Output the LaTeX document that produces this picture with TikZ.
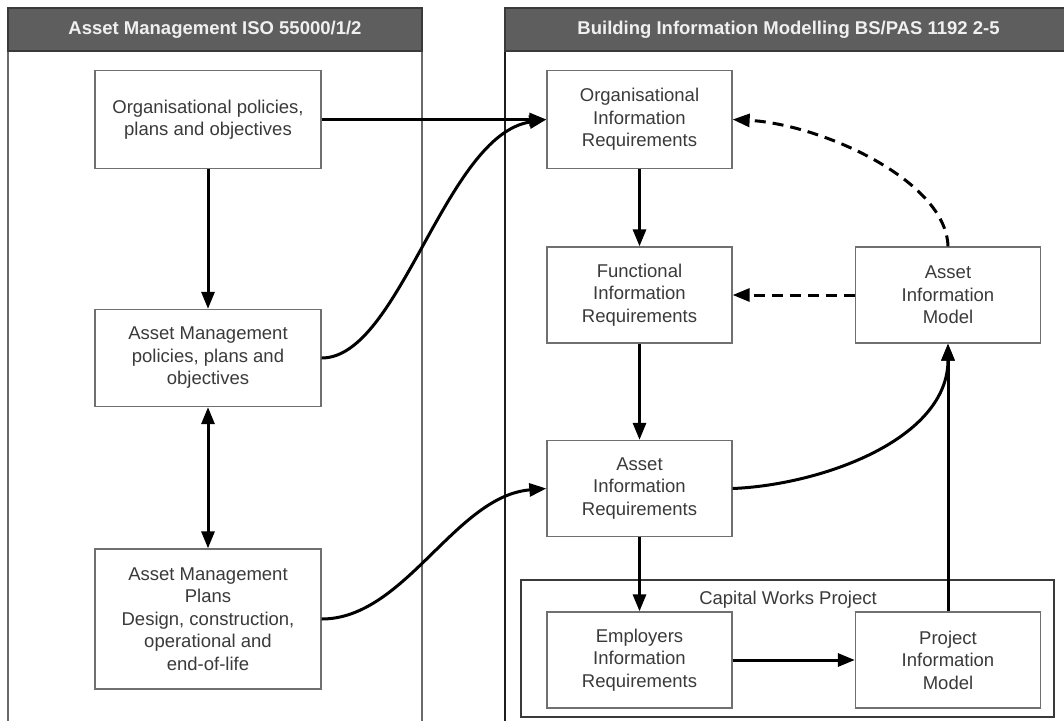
\documentclass[tikz,border=0pt]{standalone}
\usepackage{fontspec}
\setmainfont{Liberation Sans}
\usetikzlibrary{arrows.meta}
\definecolor{hdr}{HTML}{5E5E5E}
\definecolor{hdrline}{HTML}{3A3A3A}
\definecolor{boxgray}{HTML}{707070}
\definecolor{txt}{HTML}{3A3A3A}
\definecolor{lpanel}{HTML}{6A6A6A}
\definecolor{rpanel}{HTML}{1E1E1E}
\begin{document}
\begin{tikzpicture}[x=1pt,y=-1pt,
  box/.style={draw=boxgray, line width=1.3pt, fill=white, align=center, text=txt,
    font=\fontsize{18.5}{22.5}\selectfont, inner sep=0pt},
  lbox/.style={box, minimum width=226pt},
  rbox/.style={box, minimum width=185pt, minimum height=96pt},
  header/.style={fill=hdr, draw=hdrline, line width=1.5pt, text=white!94!black,
    font=\fontsize{18.5}{22}\selectfont\bfseries, inner sep=0pt, minimum height=43pt},
  tip/.tip={Triangle[length=17pt,width=13pt]},
  conn/.style={line width=3pt, black, -tip},
  dconn/.style={conn, dash pattern=on 11pt off 7pt},
]
\clip (0,0) rectangle (1064,720);
\fill[white] (0,0) rectangle (1064,720);

% panels
\draw[lpanel, line width=1.6pt] (8,8) rectangle (422,760);
\draw[rpanel, line width=2pt] (505,8) rectangle (1072,760);
\node[header, minimum width=414pt] (lh) at (215,29.5) {Asset Management ISO 55000/1/2};
\node[header, minimum width=567pt] (rh) at (788.5,29.5) {Building Information Modelling BS/PAS 1192 2-5};

% capital works frame
\draw[hdrline, line width=1.8pt] (521,580) rectangle (1054,717);
\node[text=txt, font=\fontsize{18.5}{22}\selectfont, inner sep=0pt] (cw) at (788,600) {Capital Works Project};

% left boxes
\node[lbox, minimum height=98pt] (op) at (208,119.5) {Organisational policies,\\plans and objectives};
\node[lbox, minimum height=97pt] (amp) at (208,358) {Asset Management\\policies, plans and\\objectives};
\node[lbox, minimum height=140pt] (amplans) at (208,619) {Asset Management\\Plans\\Design, construction,\\operational and\\end-of-life};

% right boxes
\node[rbox, minimum height=98pt] (oir) at (639.5,119.5) {Organisational\\Information\\Requirements};
\node[rbox] (fir) at (639.5,295) {Functional\\Information\\Requirements};
\node[rbox] (aim) at (948,295) {Asset\\Information\\Model};
\node[rbox] (air) at (639.5,488.5) {Asset\\Information\\Requirements};
\node[rbox] (eir) at (639.5,660) {Employers\\Information\\Requirements};
\node[rbox] (pim) at (948,660) {Project\\Information\\Model};

% connectors
\draw[conn] (op.east) -- (oir.west);
\draw[conn] (op.south) -- (amp.north);
\draw[line width=3pt, tip-tip] (amp.south) -- (amplans.north);
\draw[conn] (amp.east) .. controls (400,358) and (445,135) .. (oir.west);
\draw[conn] (amplans.east) .. controls (405,619) and (455,496) .. (air.west);
\draw[conn] (oir.south) -- (fir.north);
\draw[conn] (fir.south) -- (air.north);
\draw[dconn] (aim.west) -- (fir.east);
\draw[dconn] (aim.north) .. controls (946,180) and (820,124) .. (oir.east);
\draw[conn] (air.east) .. controls (820,485) and (948,440) .. (aim.south);
\draw[conn] (air.south) -- (eir.north);
\draw[conn] (eir.east) -- (pim.west);
\draw[conn] (pim.north) -- (aim.south);
\end{tikzpicture}
\end{document}
